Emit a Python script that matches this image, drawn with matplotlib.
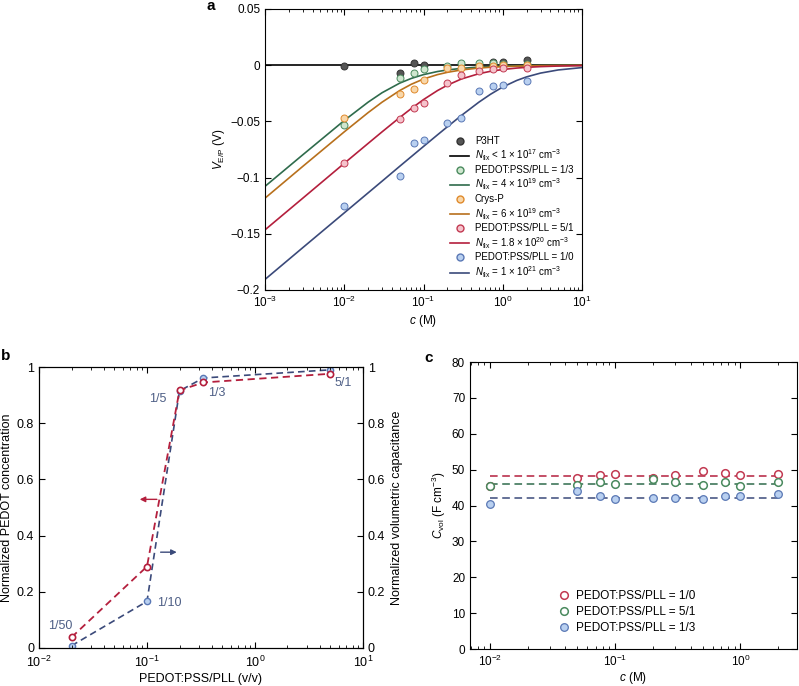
import numpy as np
import matplotlib
matplotlib.use('Agg')
import matplotlib.pyplot as plt
from matplotlib.lines import Line2D
from matplotlib.ticker import LogLocator, NullFormatter, FixedLocator

plt.rcParams['font.family'] = ['Liberation Sans', 'DejaVu Sans']
plt.rcParams['mathtext.fontset'] = 'custom'
plt.rcParams['mathtext.rm'] = 'Liberation Sans'
plt.rcParams['mathtext.it'] = 'Liberation Sans:italic'
plt.rcParams['font.size'] = 8.5
plt.rcParams['axes.linewidth'] = 0.8

# ---------------- panel a data ----------------
# model curves
c_fit = [1e-3, 3e-3, 1e-2, 2e-2, 3e-2, 5e-2, 7e-2, 0.1, 0.15, 0.2, 0.3, 0.5, 0.7, 1, 1.5, 2, 3, 5, 10]
v_black = [0.0] * 19
v_green = [-0.1078, -0.0797, -0.0492, -0.0329, -0.0245, -0.0160, -0.0118, -0.00839, -0.00564, -0.00425,
           -0.00284, -0.00171, -0.00122, -0.00085, -0.00057, -0.00043, -0.00028, -0.00017, -0.000085]
v_orange = [-0.1183, -0.0900, -0.0593, -0.0422, -0.0329, -0.0226, -0.0170, -0.0123, -0.00839, -0.00634,
            -0.00425, -0.00256, -0.00183, -0.00128, -0.00085, -0.00064, -0.00043, -0.00026, -0.00013]
v_red = [-0.1465, -0.1183, -0.0873, -0.0696, -0.0593, -0.0466, -0.0386, -0.0306, -0.0226, -0.0178,
         -0.0123, -0.00757, -0.00545, -0.00383, -0.00256, -0.00192, -0.00128, -0.00077, -0.00038]
v_blue = [-0.1906, -0.1623, -0.1314, -0.1136, -0.1032, -0.0900, -0.0814, -0.0723, -0.0620, -0.0548,
          -0.0448, -0.0329, -0.0259, -0.0194, -0.0136, -0.0104, -0.00703, -0.00425, -0.00213]

c_p3ht = [0.01, 0.05, 0.075, 0.1, 0.75, 1, 2]
v_p3ht = [-0.0005, -0.007, 0.0015, 0.0002, 0.0025, 0.003, 0.0045]
c_meas = [0.01, 0.05, 0.075, 0.1, 0.2, 0.3, 0.5, 0.75, 1, 2]
v_pll13 = [-0.0534, -0.0116, -0.0071, -0.0036, -0.001, 0.0018, 0.0018, 0.0018, 0.0009, 0.001]
v_crysp = [-0.0466, -0.0255, -0.0208, -0.0134, -0.0027, -0.0027, -0.001, -0.0003, 0.0005, -0.0002]
v_pll51 = [-0.087, -0.0478, -0.0377, -0.0336, -0.0157, -0.0089, -0.0048, -0.0033, -0.0027, -0.0021]
v_pll10 = [-0.1253, -0.0989, -0.0692, -0.0662, -0.0511, -0.0472, -0.0232, -0.0184, -0.0178, -0.0145]

# ---------------- panel b data ----------------
ratio = [0.02, 0.1, 0.2, 1/3, 5]
pedot_conc = [0.038, 0.29, 0.917, 0.945, 0.976]
vol_cap = [0.008, 0.166, 0.915, 0.961, 0.99]
ratio_labels = ['1/50', '1/10', '1/5', '1/3', '5/1']
label_x = [0.0159, 0.16, 0.126, 0.445, 6.5]
label_y = [0.077, 0.16, 0.885, 0.908, 0.943]

# ---------------- panel c data ----------------
c_c = [0.01, 0.05, 0.075, 0.1, 0.2, 0.3, 0.5, 0.75, 1, 2]
cvol_10 = [45.5, 47.8, 48.6, 48.9, 47.7, 48.4, 49.5, 49.1, 48.4, 48.9]
cvol_51 = [45.3, 45.8, 46.5, 46.1, 47.4, 46.5, 45.8, 46.5, 45.5, 46.5]
cvol_13 = [40.3, 44.0, 42.6, 41.7, 42.0, 42.1, 41.7, 42.6, 42.6, 43.2]
cvol_mean = [48.3, 46.1, 42.2]

# colours
k_line = 'black'
g_line, g_edge, g_fill = '#2f6b4c', '#4a8a5e', '#cfe6cf'
o_line, o_edge, o_fill = '#b8701c', '#e08a2c', '#f8d7aa'
r_line, r_edge, r_fill = '#b41f3d', '#c23a52', '#f5c3cc'
b_line, b_edge, b_fill = '#3b4a7a', '#5a78b5', '#b9d0f0'
lab_col = '#4e5f86'

fig = plt.figure(figsize=(7.99, 6.86), dpi=100)


def style(ax, top=True, right=True, size=8.5):
    ax.tick_params(which='both', direction='in', top=top, right=right, labelsize=size)
    ax.tick_params(which='major', length=4, width=0.8)
    ax.tick_params(which='minor', length=2, width=0.6)


# ===== panel a =====
ax_a = fig.add_axes([0.3317, 0.5773, 0.3967, 0.4096])
ax_a.plot(c_fit, v_black, color=k_line, lw=1.2)
ax_a.plot(c_fit, v_green, color=g_line, lw=1.2)
ax_a.plot(c_fit, v_orange, color=o_line, lw=1.2)
ax_a.plot(c_fit, v_red, color=r_line, lw=1.2)
ax_a.plot(c_fit, v_blue, color=b_line, lw=1.2)
ms = 5
ax_a.plot(c_p3ht, v_p3ht, 'o', ms=ms, mfc='#555555', mec='#333333', mew=0.7)
ax_a.plot(c_meas, v_pll13, 'o', ms=ms, mfc=g_fill, mec=g_edge, mew=0.7)
ax_a.plot(c_meas, v_crysp, 'o', ms=ms, mfc=o_fill, mec=o_edge, mew=0.7)
ax_a.plot(c_meas, v_pll51, 'o', ms=ms, mfc=r_fill, mec=r_edge, mew=0.7)
ax_a.plot(c_meas, v_pll10, 'o', ms=ms, mfc=b_fill, mec=b_edge, mew=0.7)
ax_a.set_xscale('log')
ax_a.set_xlim(1e-3, 10)
ax_a.set_ylim(-0.2, 0.05)
ax_a.set_yticks([0.05, 0, -0.05, -0.1, -0.15, -0.2])
ax_a.set_yticklabels(['0.05', '0', '\u22120.05', '\u22120.1', '\u22120.15', '\u22120.2'])
ax_a.yaxis.set_minor_locator(FixedLocator([]))
ax_a.xaxis.set_minor_locator(LogLocator(base=10, subs=np.arange(2, 10), numticks=20))
ax_a.xaxis.set_minor_formatter(NullFormatter())
style(ax_a)
ax_a.set_xlabel('$c$ (M)', labelpad=2)
ax_a.set_ylabel('$V_{\\mathrm{E/P}}$ (V)', labelpad=2)

handles = [
    Line2D([], [], ls='none', marker='o', ms=ms, mfc='#555555', mec='#333333'),
    Line2D([], [], color=k_line, lw=1.2),
    Line2D([], [], ls='none', marker='o', ms=ms, mfc=g_fill, mec=g_edge),
    Line2D([], [], color=g_line, lw=1.2),
    Line2D([], [], ls='none', marker='o', ms=ms, mfc=o_fill, mec=o_edge),
    Line2D([], [], color=o_line, lw=1.2),
    Line2D([], [], ls='none', marker='o', ms=ms, mfc=r_fill, mec=r_edge),
    Line2D([], [], color=r_line, lw=1.2),
    Line2D([], [], ls='none', marker='o', ms=ms, mfc=b_fill, mec=b_edge),
    Line2D([], [], color=b_line, lw=1.2),
]
labels = [
    'P3HT',
    '$N_{\\mathrm{fix}}$ < 1 \u00d7 10$^{17}$ cm$^{-3}$',
    'PEDOT:PSS/PLL = 1/3',
    '$N_{\\mathrm{fix}}$ = 4 \u00d7 10$^{19}$ cm$^{-3}$',
    'Crys-P',
    '$N_{\\mathrm{fix}}$ = 6 \u00d7 10$^{19}$ cm$^{-3}$',
    'PEDOT:PSS/PLL = 5/1',
    '$N_{\\mathrm{fix}}$ = 1.8 \u00d7 10$^{20}$ cm$^{-3}$',
    'PEDOT:PSS/PLL = 1/0',
    '$N_{\\mathrm{fix}}$ = 1 \u00d7 10$^{21}$ cm$^{-3}$',
]
ax_a.legend(handles, labels, loc='upper left', bbox_to_anchor=(0.585, 0.548), frameon=False,
            fontsize=7, labelspacing=0.18, handlelength=1.9, handletextpad=0.6,
            borderpad=0, borderaxespad=0)
fig.text(211 / 799, 1 - 6 / 686, 'a', fontsize=11, fontweight='bold', ha='center', va='center')

# ===== panel b =====
ax_b = fig.add_axes([0.0488, 0.0554, 0.4055, 0.4096])
ax_b2 = ax_b.twinx()
ax_b2.plot(ratio, vol_cap, '--', color=b_line, lw=1.2, dashes=(4, 2.5),
           marker='o', ms=4.5, mfc=b_fill, mec=b_edge, mew=1)
ax_b.plot(ratio, pedot_conc, '--', color=r_line, lw=1.3, dashes=(4, 2.5),
          marker='o', ms=4.5, mfc='white', mec=r_line, mew=1.2)
ax_b.set_zorder(ax_b2.get_zorder() + 1)
ax_b.patch.set_visible(False)
for a in (ax_b, ax_b2):
    a.set_xscale('log')
    a.set_xlim(1e-2, 10)
    a.set_ylim(0, 1)
    a.set_yticks([0, 0.2, 0.4, 0.6, 0.8, 1])
    a.set_yticklabels(['0', '0.2', '0.4', '0.6', '0.8', '1'])
ax_b.xaxis.set_minor_locator(LogLocator(base=10, subs=np.arange(2, 10), numticks=20))
ax_b.xaxis.set_minor_formatter(NullFormatter())
style(ax_b, top=True, right=False, size=9)
style(ax_b2, top=True, right=True, size=9)
ax_b2.tick_params(left=False)
ax_b.tick_params(axis='x', pad=5)
ax_b.set_xlabel('PEDOT:PSS/PLL (v/v)', fontsize=9, labelpad=2)
ax_b.set_ylabel('Normalized PEDOT concentration', fontsize=9, labelpad=3)
ax_b2.set_ylabel('Normalized volumetric capacitance', fontsize=9, labelpad=4)
for t, x, y in zip(ratio_labels, label_x, label_y):
    ax_b.text(x, y, t, color=lab_col, fontsize=9, ha='center', va='center')
ax_b.annotate('', xy=(0.0807, 0.529), xytext=(0.131, 0.529),
              arrowprops=dict(arrowstyle='-|>', color=r_line, lw=1.0, mutation_scale=8))
ax_b.annotate('', xy=(0.2, 0.341), xytext=(0.126, 0.341),
              arrowprops=dict(arrowstyle='-|>', color=b_line, lw=1.0, mutation_scale=8))
fig.text(6 / 799, 1 - 356 / 686, 'b', fontsize=11, fontweight='bold', ha='center', va='center')

# ===== panel c =====
ax_c = fig.add_axes([0.5882, 0.0539, 0.4093, 0.4184])
ax_c.hlines(cvol_mean[0], c_c[0], c_c[-1], colors=r_line, linestyles=(0, (5, 3)), lw=1.1)
ax_c.hlines(cvol_mean[1], c_c[0], c_c[-1], colors=g_line, linestyles=(0, (5, 3)), lw=1.1)
ax_c.hlines(cvol_mean[2], c_c[0], c_c[-1], colors=b_line, linestyles=(0, (5, 3)), lw=1.1)
ax_c.plot(c_c, cvol_10, 'o', ms=5.5, mfc='white', mec=r_edge, mew=1.1, label='PEDOT:PSS/PLL = 1/0')
ax_c.plot(c_c, cvol_51, 'o', ms=5.5, mfc='white', mec=g_edge, mew=1.1, label='PEDOT:PSS/PLL = 5/1')
ax_c.plot(c_c, cvol_13, 'o', ms=5.5, mfc=b_fill, mec=b_edge, mew=0.9, label='PEDOT:PSS/PLL = 1/3')
ax_c.set_xscale('log')
ax_c.set_xlim(0.00693, 2.83)
ax_c.set_ylim(0, 80)
ax_c.set_yticks(range(0, 81, 10))
ax_c.xaxis.set_minor_locator(LogLocator(base=10, subs=np.arange(2, 10), numticks=20))
ax_c.xaxis.set_minor_formatter(NullFormatter())
style(ax_c)
ax_c.set_xlabel('$c$ (M)', labelpad=1)
ax_c.set_ylabel('$C_{\\mathrm{vol}}$ (F cm$^{-3}$)', labelpad=3)
ax_c.legend(loc='upper left', bbox_to_anchor=(0.27, 0.205), frameon=False, fontsize=8.5,
            labelspacing=0.35, handlelength=1.0, handletextpad=0.5, borderpad=0, borderaxespad=0)
fig.text(429 / 799, 1 - 358 / 686, 'c', fontsize=11, fontweight='bold', ha='center', va='center')

fig.savefig('out.png', dpi=100)
